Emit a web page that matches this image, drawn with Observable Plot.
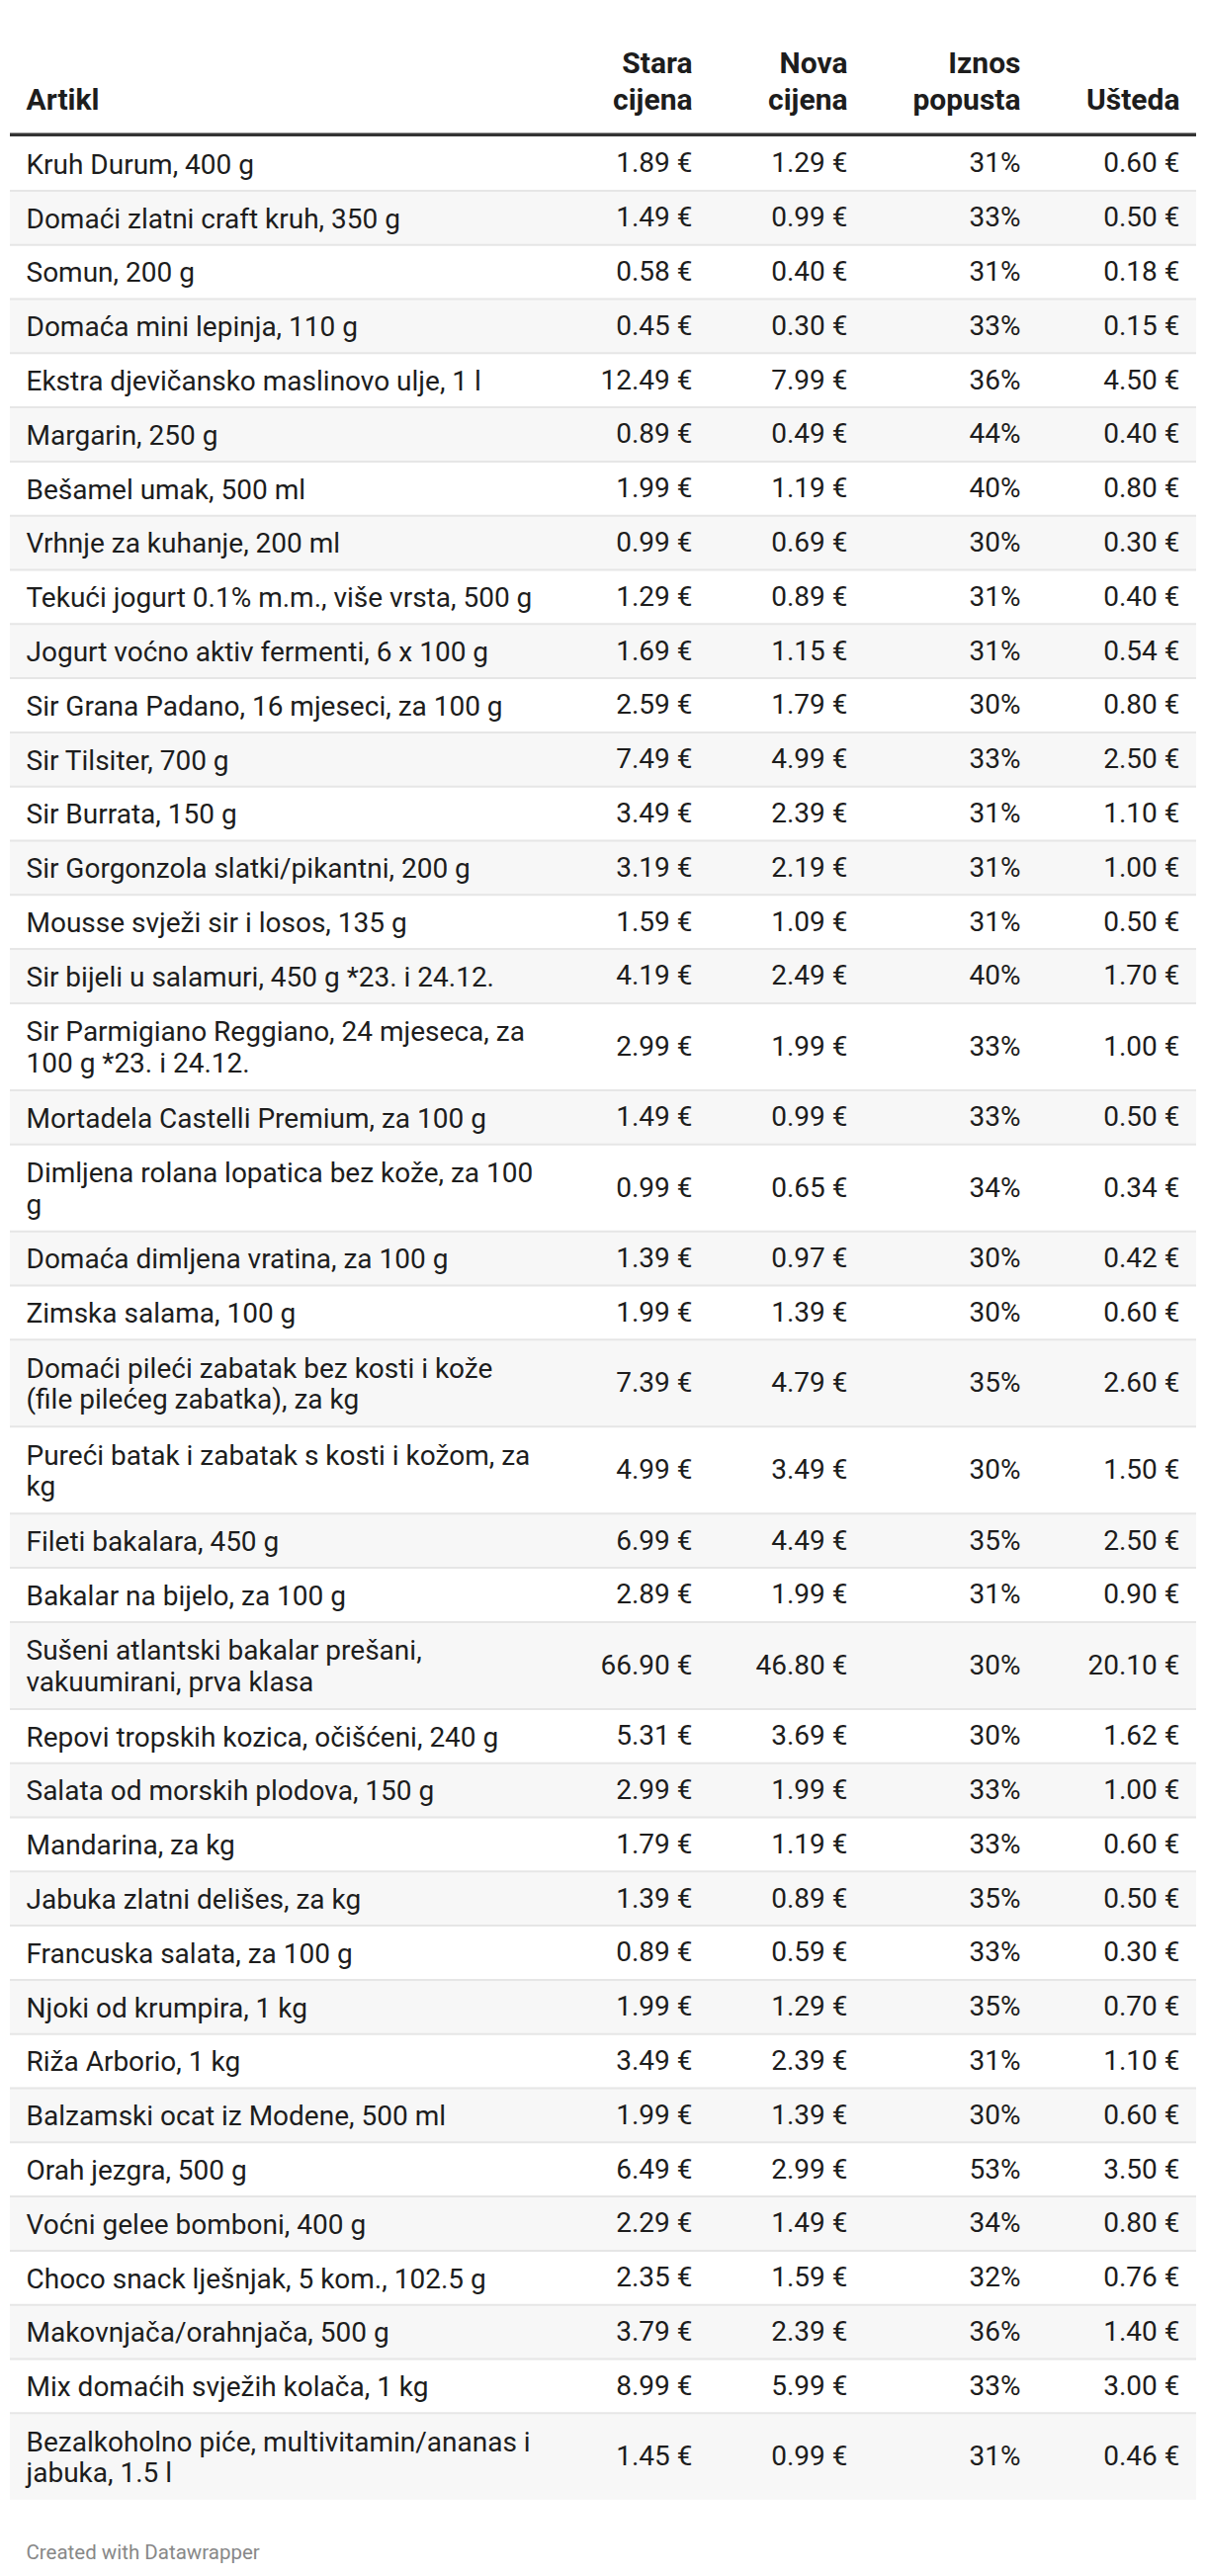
<!DOCTYPE html>
<html>
<head>
<meta charset="utf-8">
<script src="https://cdn.jsdelivr.net/npm/d3@7"></script>
<script src="https://cdn.jsdelivr.net/npm/@observablehq/plot@0.6"></script>
<style>
  html, body { margin: 0; padding: 0; background: #fff; }
  body { width: 1220px; height: 2606px; overflow: hidden; font-family: Roboto, sans-serif; }
</style>
</head>
<body>
<div id="chart"></div>
<script>
// ---- data ----
const headers = ["Artikl", "Stara\ncijena", "Nova\ncijena", "Iznos\npopusta", "Ušteda"];

const items = [
  "Kruh Durum, 400 g",
  "Domaći zlatni craft kruh, 350 g",
  "Somun, 200 g",
  "Domaća mini lepinja, 110 g",
  "Ekstra djevičansko maslinovo ulje, 1 l",
  "Margarin, 250 g",
  "Bešamel umak, 500 ml",
  "Vrhnje za kuhanje, 200 ml",
  "Tekući jogurt 0.1% m.m., više vrsta, 500 g",
  "Jogurt voćno aktiv fermenti, 6 x 100 g",
  "Sir Grana Padano, 16 mjeseci, za 100 g",
  "Sir Tilsiter, 700 g",
  "Sir Burrata, 150 g",
  "Sir Gorgonzola slatki/pikantni, 200 g",
  "Mousse svježi sir i losos, 135 g",
  "Sir bijeli u salamuri, 450 g *23. i 24.12.",
  "Sir Parmigiano Reggiano, 24 mjeseca, za\n100 g *23. i 24.12.",
  "Mortadela Castelli Premium, za 100 g",
  "Dimljena rolana lopatica bez kože, za 100\ng",
  "Domaća dimljena vratina, za 100 g",
  "Zimska salama, 100 g",
  "Domaći pileći zabatak bez kosti i kože\n(file pilećeg zabatka), za kg",
  "Pureći batak i zabatak s kosti i kožom, za\nkg",
  "Fileti bakalara, 450 g",
  "Bakalar na bijelo, za 100 g",
  "Sušeni atlantski bakalar prešani,\nvakuumirani, prva klasa",
  "Repovi tropskih kozica, očišćeni, 240 g",
  "Salata od morskih plodova, 150 g",
  "Mandarina, za kg",
  "Jabuka zlatni delišes, za kg",
  "Francuska salata, za 100 g",
  "Njoki od krumpira, 1 kg",
  "Riža Arborio, 1 kg",
  "Balzamski ocat iz Modene, 500 ml",
  "Orah jezgra, 500 g",
  "Voćni gelee bomboni, 400 g",
  "Choco snack lješnjak, 5 kom., 102.5 g",
  "Makovnjača/orahnjača, 500 g",
  "Mix domaćih svježih kolača, 1 kg",
  "Bezalkoholno piće, multivitamin/ananas i\njabuka, 1.5 l"
];

const oldPrice = [1.89, 1.49, 0.58, 0.45, 12.49, 0.89, 1.99, 0.99, 1.29, 1.69,
  2.59, 7.49, 3.49, 3.19, 1.59, 4.19, 2.99, 1.49, 0.99, 1.39,
  1.99, 7.39, 4.99, 6.99, 2.89, 66.90, 5.31, 2.99, 1.79, 1.39,
  0.89, 1.99, 3.49, 1.99, 6.49, 2.29, 2.35, 3.79, 8.99, 1.45];

const newPrice = [1.29, 0.99, 0.40, 0.30, 7.99, 0.49, 1.19, 0.69, 0.89, 1.15,
  1.79, 4.99, 2.39, 2.19, 1.09, 2.49, 1.99, 0.99, 0.65, 0.97,
  1.39, 4.79, 3.49, 4.49, 1.99, 46.80, 3.69, 1.99, 1.19, 0.89,
  0.59, 1.29, 2.39, 1.39, 2.99, 1.49, 1.59, 2.39, 5.99, 0.99];

const discount = [31, 33, 31, 33, 36, 44, 40, 30, 31, 31,
  30, 33, 31, 31, 31, 40, 33, 33, 34, 30,
  30, 35, 30, 35, 31, 30, 30, 33, 33, 35,
  33, 35, 31, 30, 53, 34, 32, 36, 33, 31];

const saving = [0.60, 0.50, 0.18, 0.15, 4.50, 0.40, 0.80, 0.30, 0.40, 0.54,
  0.80, 2.50, 1.10, 1.00, 0.50, 1.70, 1.00, 0.50, 0.34, 0.42,
  0.60, 2.60, 1.50, 2.50, 0.90, 20.10, 1.62, 1.00, 0.60, 0.50,
  0.30, 0.70, 1.10, 0.60, 3.50, 0.80, 0.76, 1.40, 3.00, 0.46];

const footer = "Created with Datawrapper";

// ---- layout ----
const W = 1220, H = 2606;
const tableLeft = 10, tableRight = 1210;
const colX = [26, 700, 857, 1032, 1193];
const headerBaseline = 110;
const headerRuleY = 135.8;
const firstRowTop = 137.6;
const singleRowH = 54.8, doubleRowH = 88;

const euro = v => d3.format(".2f")(v) + " €";

let cursor = firstRowTop;
const rows = items.map((label, i) => {
  const lines = label.split("\n").length;
  const h = lines === 1 ? singleRowH : doubleRowH;
  const r = {
    i, label,
    old: euro(oldPrice[i]),
    neu: euro(newPrice[i]),
    disc: discount[i] + "%",
    save: euro(saving[i]),
    y0: cursor, y1: cursor + h, yc: cursor + h / 2
  };
  cursor += h;
  return r;
});

const headerCells = headers.map((h, j) => ({text: h, x: colX[j], j}));

const textColor = "#1d1d1d";
const bodyFont = 28;

const chart = Plot.plot({
  width: W,
  height: H,
  margin: 0,
  x: {type: "identity", axis: null},
  y: {type: "identity", axis: null},
  style: {fontFamily: "Roboto, sans-serif", background: "#fff", color: textColor},
  marks: [
    // zebra stripes
    Plot.rect(rows.filter(d => d.i % 2 === 1), {
      x1: tableLeft, x2: tableRight, y1: "y0", y2: "y1", fill: "#f7f7f7"
    }),
    // row separators
    Plot.ruleY(rows.slice(0, -1), {
      y: "y1", x1: tableLeft, x2: tableRight, stroke: "#e6e6e6", strokeWidth: 2
    }),
    // header rule
    Plot.ruleY([headerRuleY], {
      x1: tableLeft, x2: tableRight, stroke: "#333333", strokeWidth: 3.5
    }),
    // header labels
    Plot.text(headerCells.filter(d => d.j === 0), {
      x: "x", y: headerBaseline, text: "text", textAnchor: "start", lineAnchor: "bottom",
      fontSize: 30, fontWeight: 700, lineHeight: 1.22, fill: textColor
    }),
    Plot.text(headerCells.filter(d => d.j > 0), {
      x: "x", y: headerBaseline, text: "text", textAnchor: "end", lineAnchor: "bottom",
      fontSize: 30, fontWeight: 700, lineHeight: 1.22, fill: textColor
    }),
    // body cells
    Plot.text(rows, {
      x: colX[0], y: "yc", text: "label", textAnchor: "start", lineAnchor: "middle",
      fontSize: bodyFont, lineHeight: 1.14, fill: textColor
    }),
    Plot.text(rows, {
      x: colX[1], y: "yc", text: "old", textAnchor: "end", lineAnchor: "middle",
      fontSize: bodyFont, fill: textColor
    }),
    Plot.text(rows, {
      x: colX[2], y: "yc", text: "neu", textAnchor: "end", lineAnchor: "middle",
      fontSize: bodyFont, fill: textColor
    }),
    Plot.text(rows, {
      x: colX[3], y: "yc", text: "disc", textAnchor: "end", lineAnchor: "middle",
      fontSize: bodyFont, fill: textColor
    }),
    Plot.text(rows, {
      x: colX[4], y: "yc", text: "save", textAnchor: "end", lineAnchor: "middle",
      fontSize: bodyFont, fill: textColor
    }),
    // footer
    Plot.text([footer], {
      x: colX[0], y: 2582, text: d => d, textAnchor: "start", lineAnchor: "middle",
      fontSize: 20.5, fill: "#888888"
    })
  ]
});

document.getElementById("chart").appendChild(chart);
</script>
</body>
</html>
